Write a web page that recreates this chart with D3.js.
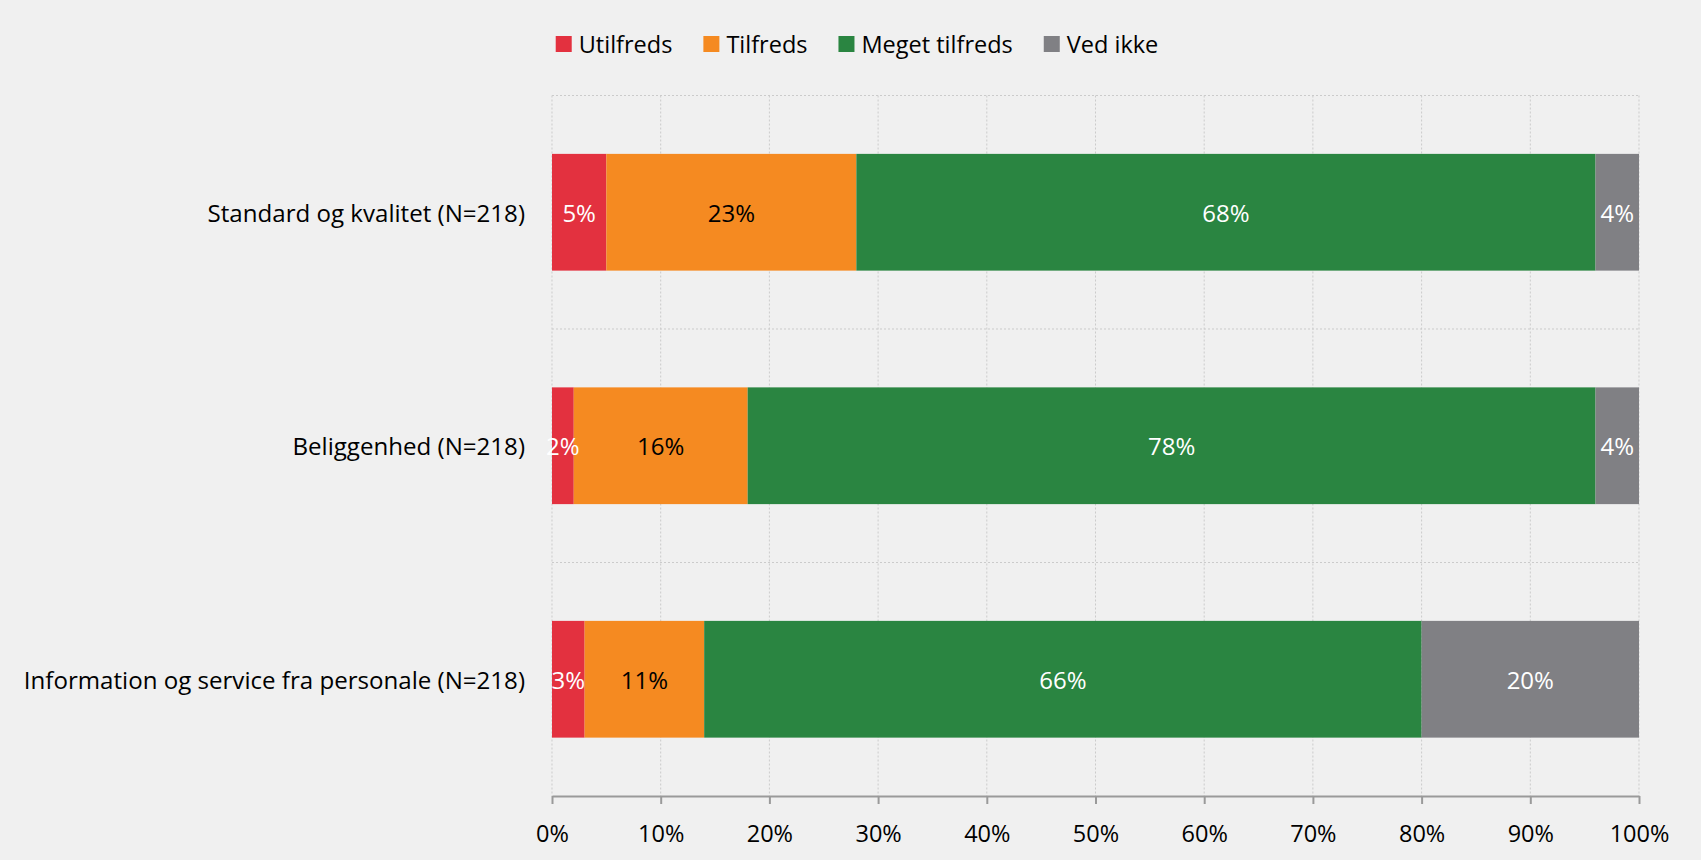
<!DOCTYPE html>
<html><head><meta charset="utf-8">
<script src="https://cdn.jsdelivr.net/npm/d3@7"></script>
<style>
html,body{margin:0;padding:0;background:#f0f0f0;}
text{font-family:"Open Sans","Noto Sans",sans-serif;}
</style></head>
<body>
<svg id="chart" width="1701" height="860"></svg>
<script>
const categories = ["Standard og kvalitet (N=218)", "Beliggenhed (N=218)", "Information og service fra personale (N=218)"];
const seriesNames = ["Utilfreds", "Tilfreds", "Meget tilfreds", "Ved ikke"];
const utilfreds = [5, 2, 3];
const tilfreds = [23, 16, 11];
const megetTilfreds = [68, 78, 66];
const vedIkke = [4, 4, 20];
const tickValues = [0,10,20,30,40,50,60,70,80,90,100];

const colors = ["#e3313f", "#f58a21", "#2a8541", "#808084"];
const labelColors = ["#ffffff", "#000000", "#ffffff", "#ffffff"];
const seriesValues = [utilfreds, tilfreds, megetTilfreds, vedIkke];

const svg = d3.select("#chart");
svg.append("rect").attr("width",1701).attr("height",860).attr("fill","#f0f0f0");

const margin = {left:552, right:1701-1639, top:95.5, bottom:860-796};
const W = 1701, H = 860;
const x = d3.scaleLinear().domain([0,100]).range([margin.left, W - margin.right]);
const y = d3.scaleBand().domain(categories).range([margin.top, H - margin.bottom]).paddingInner(0.5).paddingOuter(0.25);
const yb = d3.scaleBand().domain(categories).range([margin.top, H - margin.bottom]);

const FS = 23.5;
// gridlines vertical
svg.append("g").selectAll("line").data(tickValues).join("line")
  .attr("x1", d=>x(d)).attr("x2", d=>x(d))
  .attr("y1", margin.top).attr("y2", H - margin.bottom)
  .attr("stroke","#cbcbcb").attr("stroke-width",1).attr("stroke-dasharray","2,2");
// gridlines horizontal at band boundaries
svg.append("g").selectAll("line").data(categories).join("line")
  .attr("x1", x(0)).attr("x2", x(100))
  .attr("y1", d=>yb(d)).attr("y2", d=>yb(d))
  .attr("stroke","#cbcbcb").attr("stroke-width",1).attr("stroke-dasharray","2,2");

// stacked data
const rows = categories.map((c,i)=>{ const r={cat:c}; seriesNames.forEach((s,j)=>r[s]=seriesValues[j][i]); return r; });
const stack = d3.stack().keys(seriesNames)(rows);

const gBars = svg.append("g");
stack.forEach((layer,j)=>{
  const g = gBars.append("g");
  g.selectAll("rect").data(layer).join("rect")
    .attr("x", d=>x(d[0])).attr("width", d=>x(d[1])-x(d[0]))
    .attr("y", d=>y(d.data.cat)).attr("height", y.bandwidth())
    .attr("fill", colors[j]);
});
stack.forEach((layer,j)=>{
  svg.append("g").selectAll("text").data(layer).join("text")
    .attr("x", d=>(x(d[0])+x(d[1]))/2)
    .attr("y", d=>y(d.data.cat)+y.bandwidth()/2)
    .attr("text-anchor","middle").attr("dominant-baseline","central")
    .attr("font-size", 24).attr("fill", labelColors[j])
    .text(d=>(d[1]-d[0])+"%");
});

// x axis
const xAxis = d3.axisBottom(x).tickValues(tickValues).tickFormat(d=>d+"%").tickSize(8).tickSizeOuter(0);
const gx = svg.append("g").attr("transform",`translate(0,${H-margin.bottom})`).call(xAxis);
gx.select(".domain").attr("stroke","#9a9a9a").attr("stroke-width",2);
gx.selectAll(".tick line").attr("stroke","#9a9a9a").attr("stroke-width",2);
gx.selectAll(".tick text").attr("font-size",FS).attr("fill","#000").attr("dy",0).attr("y",37)
  .attr("dominant-baseline","central").style("font-family",'"Open Sans","Noto Sans",sans-serif');

// y labels
svg.append("g").selectAll("text").data(categories).join("text")
  .attr("x", x(0)-27).attr("y", d=>y(d)+y.bandwidth()/2)
  .attr("text-anchor","end").attr("dominant-baseline","central")
  .attr("font-size",24.1).attr("fill","#000").text(d=>d);

// legend
const lg = svg.append("g");
const items = lg.selectAll("g").data(seriesNames).join("g");
items.append("rect").attr("width",16).attr("height",16).attr("y",36).attr("fill",(d,i)=>colors[i]);
items.append("text").attr("x",23).attr("y",43.5).attr("dominant-baseline","central")
  .attr("font-size",FS).attr("fill","#000").text(d=>d);
items.each(function(){
  const t = d3.select(this).select("text").node().getComputedTextLength();
  d3.select(this).attr("data-w", 23+t);
});
const widths = items.nodes().map(n=>+n.getAttribute("data-w"));
const gap = 31;
const total = d3.sum(widths) + gap*(widths.length-1);
let start = 857 - total/2;
items.attr("transform",(d,i)=>{ const tx = start + d3.sum(widths.slice(0,i)) + gap*i; return `translate(${tx},0)`; });
</script>
</body></html>
